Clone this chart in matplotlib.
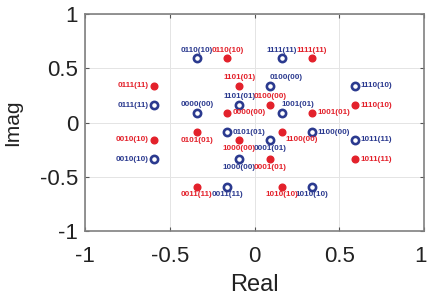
import matplotlib
matplotlib.use("Agg")
import matplotlib.pyplot as plt
import matplotlib.transforms as mtransforms

plt.rcParams['font.family'] = ['Liberation Sans', 'DejaVu Sans']

# 星座点数据：蓝色空心圈
blue_x = [-0.34, 0.16, 0.09, 0.59, -0.59, -0.34, -0.09, 0.16,
          -0.16, -0.09, -0.59, -0.16, 0.34, 0.09, 0.59, 0.34]
blue_y = [0.59, 0.59, 0.34, 0.34, 0.16, 0.09, 0.16, 0.09,
          -0.09, -0.34, -0.34, -0.59, -0.09, -0.16, -0.16, -0.59]
blue_lab = ["0110(10)", "1111(11)", "0100(00)", "1110(10)", "0111(11)", "0000(00)", "1101(01)", "1001(01)",
            "0101(01)", "1000(00)", "0010(10)", "0011(11)", "1100(00)", "0001(01)", "1011(11)", "1010(10)"]

# 红色实心点
red_x = [-0.16, 0.34, -0.59, -0.09, 0.59, -0.16, 0.09, 0.34,
         -0.34, -0.09, -0.59, -0.34, 0.16, 0.09, 0.59, 0.16]
red_y = [0.59, 0.59, 0.34, 0.34, 0.16, 0.09, 0.16, 0.09,
         -0.09, -0.16, -0.16, -0.59, -0.09, -0.34, -0.34, -0.59]
red_lab = ["0110(10)", "1111(11)", "0111(11)", "1101(01)", "1110(10)", "0000(00)", "0100(00)", "1001(01)",
           "0101(01)", "1000(00)", "0010(10)", "0011(11)", "1100(00)", "0001(01)", "1011(11)", "1010(10)"]

# 标签方位 (u上 d下 l左 r右 ur右上 dr右下)
blue_pos = ["u", "u", "ur", "r", "l", "u", "u", "ur", "r", "d", "l", "d", "r", "d", "r", "d"]
red_pos = ["u", "u", "l", "u", "r", "r", "u", "r", "d", "d", "l", "d", "dr", "d", "r", "d"]

ticks = [-1, -0.5, 0, 0.5, 1]
tick_labels = ["-1", "-0.5", "0", "0.5", "1"]

BLUE = "#2b3a8f"
RED = "#e3212b"

place = {
    "u": ((0, 3.5), "center", "bottom"),
    "d": ((0, -3.5), "center", "top"),
    "l": ((-4, 0), "right", "center"),
    "r": ((4, 0), "left", "center"),
    "ur": ((0, 3.5), "left", "bottom"),
    "dr": ((3, -2.5), "left", "top"),
}

fig = plt.figure(figsize=(4.28, 2.98), dpi=100)
ax = fig.add_axes([0.1986, 0.2248, 0.7921, 0.7282])

ax.plot(blue_x, blue_y, "o", ls="none", mfc="none", mec=BLUE, mew=1.9, ms=5.2, zorder=3)
ax.plot(red_x, red_y, "o", ls="none", color=RED, ms=4.8, zorder=3)

for xs, ys, labs, pos, c in [(blue_x, blue_y, blue_lab, blue_pos, BLUE),
                             (red_x, red_y, red_lab, red_pos, RED)]:
    for x, y, s, p in zip(xs, ys, labs, pos):
        off, ha, va = place[p]
        ax.annotate(s, (x, y), xytext=off, textcoords="offset points",
                    ha=ha, va=va, fontsize=5.8, color=c, fontweight="bold")

ax.set_xlim(-1, 1)
ax.set_ylim(-1, 1)
ax.set_xticks(ticks)
ax.set_yticks(ticks)
ax.set_xticklabels(tick_labels)
ax.set_yticklabels(tick_labels)
ax.grid(True, color="#e4e4e4", lw=0.7)
ax.set_axisbelow(True)
ax.tick_params(direction="in", top=True, right=True, labelsize=16, length=3,
               color="#555555", labelcolor="#222222")
ax.tick_params(axis="x", pad=11)
ax.tick_params(axis="y", pad=5)
for sp in ax.spines.values():
    sp.set_color("#808080")
    sp.set_linewidth(1.2)

# 最右侧刻度"1"稍微左移，避免被裁掉
last = ax.get_xticklabels()[-1]
last.set_transform(last.get_transform() + mtransforms.ScaledTranslation(-4 / 100, 0, fig.dpi_scale_trans))

ax.set_xlabel("Real", fontsize=17, color="#222222", labelpad=5)
ax.set_ylabel("Imag", fontsize=15, color="#222222", labelpad=13)

fig.savefig("out.png", dpi=100)
